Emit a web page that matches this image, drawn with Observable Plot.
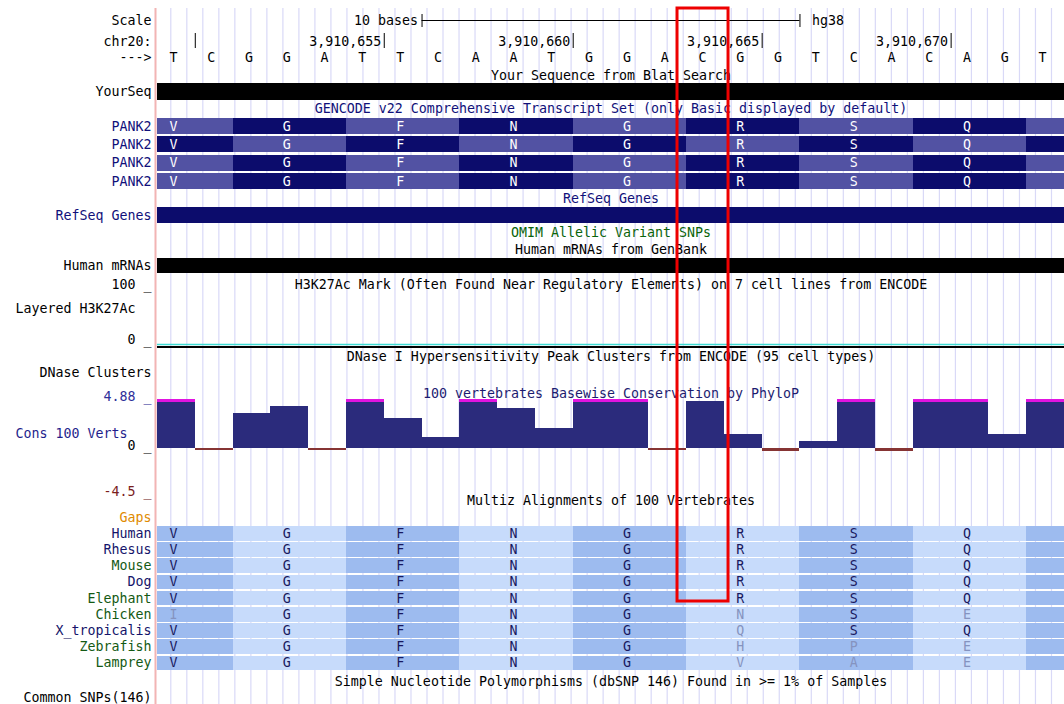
<!DOCTYPE html>
<html><head><meta charset="utf-8">
<script src="https://cdn.jsdelivr.net/npm/d3@7"></script>
<script src="https://cdn.jsdelivr.net/npm/@observablehq/plot@0.6"></script>
<style>
body{margin:0;background:#fff}
#chart{position:relative;width:1064px;height:704px;overflow:hidden;background:#fff}
#chart svg{position:absolute;left:0;top:0}
</style></head><body><div id="chart"></div>
<script>
// ---------------- data ----------------
const chromLabel = "chr20:";
const assembly = "hg38";
const firstBase = 3910650;
const bases = ["T","C","G","G","A","T","T","C","A","A","T","G","G","A","C","G","G","T","C","A","C","A","G","T"];
const coordTicks = [3910650, 3910655, 3910660, 3910665, 3910670];
const coordLabelled = [3910655, 3910660, 3910665, 3910670];
const scaleBarBases = 10;
const aminoAcids = ["V","G","F","N","G","R","S","Q",""]; // codon k centred on base 3k
const pank2Rows = ["PANK2","PANK2","PANK2","PANK2"];
const pank2Phase = [0, 1, 0, 0];
const h3k27acScale = ["100 _", "0 _"];
const phyloP = [5.6,-0.15,3.45,4.15,-0.15,5.6,3.05,1.1,5.6,3.95,2.05,5.6,5.6,-0.2,4.68,1.47,-0.3,0.7,5.6,-0.3,5.6,5.6,1.4,5.6];
const phyloPMax = 4.88, phyloPMin = -4.5;
const phyloPTicks = ["4.88 _", "0 _", "-4.5 _"];
const species = ["Human","Rhesus","Mouse","Dog","Elephant","Chicken","X_tropicalis","Zebrafish","Lamprey"];
const speciesAA = ["VGFNGRSQ","VGFNGRSQ","VGFNGRSQ","VGFNGRSQ","VGFNGRSQ","IGFNGNSE","VGFNGQSQ","VGFNGHPE","VGFNGVAE"];
const speciesGroup = ["a","a","b","a","b","b","a","b","b"];
const trackTitles = [
  "Your Sequence from Blat Search",
  "GENCODE v22 Comprehensive Transcript Set (only Basic displayed by default)",
  "RefSeq Genes",
  "OMIM Allelic Variant SNPs",
  "Human mRNAs from GenBank",
  "H3K27Ac Mark (Often Found Near Regulatory Elements) on 7 cell lines from ENCODE",
  "DNase I Hypersensitivity Peak Clusters from ENCODE (95 cell types)",
  "100 vertebrates Basewise Conservation by PhyloP",
  "Multiz Alignments of 100 Vertebrates",
  "Simple Nucleotide Polymorphisms (dbSNP 146) Found in >= 1% of Samples"
];
const highlightBase = 3910664;

// ---------------- layout / style ----------------
const W = 1064, H = 704, ML = 157;
const FONT = "DejaVu Sans Mono";
const FS = 13.3;
const n = bases.length;
const xLeft = firstBase - 0.5, xRight = firstBase + n - 0.5;
const xMid = (xLeft + xRight) / 2;
const xScale = {domain: [xLeft, xRight], range: [ML, W]};
const yPix = {domain: [0, H], range: [0, H]};
const NAVY = "#10107a", GREEN = "#0a640a";

const titleY = [75,108,198,232,249,284,356,393,500,681];
const titleColor = ["#000", NAVY, NAVY, GREEN, "#000", "#000", "#000", "#1c1c70", "#000", "#000"];
const titles = trackTitles.map((t,i) => ({t, y: titleY[i], c: titleColor[i]}));

const leftLabels = [
  {t:"Scale", y:20, c:"#000"},
  {t:chromLabel, y:41, c:"#000"},
  {t:"--->", y:57, c:"#000"},
  {t:"YourSeq", y:91, c:"#000"},
  ...pank2Rows.map((t,i)=>({t, y:126+18.3*i, c:NAVY})),
  {t:"RefSeq Genes", y:215, c:NAVY},
  {t:"Human mRNAs", y:265, c:"#000"},
  {t:h3k27acScale[0], y:284, c:"#000"},
  {t:h3k27acScale[1], y:339, c:"#000"},
  {t:"DNase Clusters", y:372, c:"#000"},
  {t:"Gaps", y:517, c:"#e08a00"},
  ...species.map((t,i)=>({t, y:533+16.2*i, c: speciesGroup[i]==="a" ? "#14146a" : "#145a14"})),
  {t:"Common SNPs(146)", y:697, c:"#000"}
];
const leftLabelsStart = [
  {t:"Layered H3K27Ac", y:308, c:"#000"},
  {t:"Cons 100 Verts", y:433, c:"#1e1e8c"}
];

// grid lines (UCSC guidelines)
const gridX = d3.range(56).map(k => firstBase - 0.148 + k*0.4237);

// codons
const codons = aminoAcids.map((aa,k) => ({k, aa, x1: firstBase+3*k-1.5, x2: firstBase+3*k+1.5, xc: firstBase+3*k}));

const pankRects = [];
pank2Rows.forEach((r,i) => codons.forEach(c => pankRects.push({...c, y1:118+18.3*i, y2:134+18.3*i, dark: (c.k+pank2Phase[i])%2===1})));
const pankText = pankRects.filter(d => d.aa);

const mzRects = [];
species.forEach((s,i) => codons.forEach(c => mzRects.push({...c, y1:526+16.2*i, y2:540.5+16.2*i, dark: c.k%2===0})));
const mzText = [];
species.forEach((s,i) => speciesAA[i].split("").forEach((aa,k) => mzText.push({aa, xc: firstBase+3*k, y: 533+16.2*i, match: aa===speciesAA[0][k]})));

const baseData = bases.map((b,i)=>({b, x: firstBase+i}));
const scaleX1 = xMid - scaleBarBases/2, scaleX2 = xMid + scaleBarBases/2;

const common = {width: W, height: H, marginLeft: ML, marginRight: 0, marginTop: 0, marginBottom: 0, x: {...xScale, axis: null}};

// ---------------- layer 1: layout tracks ----------------
const layer1 = Plot.plot({
  ...common,
  y: {...yPix, axis: null},
  style: {fontFamily: FONT, fontSize: FS+"px", background: "white"},
  marks: [
    Plot.ruleX(gridX, {x: d=>d, y1: 8, y2: H, stroke: "#d9d9f7", strokeWidth: 1.2, clip: true}),
    Plot.ruleX([xLeft], {y1: 8, y2: H, dx: -2, stroke: "#f2b4b4", strokeWidth: 2}),
    // scale bar
    Plot.ruleY([20], {x1: scaleX1, x2: scaleX2, stroke: "#000"}),
    Plot.ruleX([scaleX1, scaleX2], {y1: 14, y2: 27, stroke: "#000"}),
    Plot.text(["10 bases"], {x: scaleX1, y: 20, dx: -4, textAnchor: "end", text: d=>d, fill: "#000"}),
    Plot.text([assembly], {x: scaleX2, y: 20, dx: 12, textAnchor: "start", text: d=>d, fill: "#000"}),
    // coordinates
    Plot.ruleX(coordTicks, {x: d=>d+0.5, y1: 33, y2: 48, stroke: "#000"}),
    Plot.text(coordLabelled, {x: d=>d+0.5, y: 41, dx: -3, textAnchor: "end", text: d=>d3.format(",")(d), fill: "#000"}),
    Plot.text(baseData, {x: "x", y: 57, dx: -3, text: "b", fill: "#000"}),
    // titles
    Plot.text(titles, {x: xMid, y: "y", text: "t", fill: "c"}),
    // YourSeq
    Plot.rect([0], {x1: xLeft, x2: xRight, y1: 83, y2: 100, fill: "#000", inset: 0}),
    // PANK2
    Plot.rect(pankRects, {x1: "x1", x2: "x2", y1: "y1", y2: "y2", fill: d => d.dark ? "#0c0c6c" : "#5252a3", clip: true, inset: 0, shapeRendering: "crispEdges"}),
    Plot.text(pankText, {x: "xc", y: d => (d.y1+d.y2)/2, dx: -3, text: "aa", fill: "#fff"}),
    // RefSeq
    Plot.rect([0], {x1: xLeft, x2: xRight, y1: 207, y2: 223, fill: "#0c0c6c", inset: 0}),
    // Human mRNAs
    Plot.rect([0], {x1: xLeft, x2: xRight, y1: 258, y2: 273, fill: "#000", inset: 0}),
    // H3K27Ac baseline
    Plot.ruleY([344], {x1: xLeft, x2: xRight, stroke: "#3fdcd4", strokeWidth: 1.5}),
    Plot.ruleY([346.5], {x1: xLeft, x2: xRight, stroke: "#000", strokeWidth: 2}),
    // Multiz
    Plot.rect(mzRects, {x1: "x1", x2: "x2", y1: "y1", y2: "y2", fill: d => d.dark ? "#9dbbef" : "#c7dbfb", clip: true, inset: 0, shapeRendering: "crispEdges"}),
    Plot.text(mzText, {x: "xc", y: "y", dx: -3, text: "aa", fill: d => d.match ? "#18185e" : "#8593bf"}),
    // left labels
    Plot.text(leftLabels, {x: xLeft, y: "y", dx: -6, textAnchor: "end", text: "t", fill: "c"}),
    Plot.text(leftLabelsStart, {x: xLeft, y: "y", dx: -142, textAnchor: "start", text: "t", fill: "c"})
  ]
});

// ---------------- layer 2: PhyloP conservation ----------------
const pp = phyloP.map((v,i) => ({x1: firstBase+i-0.5, x2: firstBase+i+0.5, v, vc: Math.min(v, phyloPMax)}));
const layer2 = Plot.plot({
  ...common,
  y: {domain: [phyloPMin, phyloPMax], range: [494, 399], axis: null},
  style: {fontFamily: FONT, fontSize: FS+"px", background: "transparent"},
  marks: [
    Plot.rectY(pp.filter(d=>d.v>=0), {x1: "x1", x2: "x2", y1: 0, y2: "vc", fill: "#2b2b7c", inset: 0, shapeRendering: "crispEdges"}),
    Plot.rectY(pp.filter(d=>d.v<0), {x1: "x1", x2: "x2", y1: 0, y2: d => Math.min(d.v, -0.18), fill: "#863434", inset: 0, shapeRendering: "crispEdges"}),
    Plot.rectY(pp.filter(d=>d.v>phyloPMax), {x1: "x1", x2: "x2", y1: phyloPMax-0.3, y2: phyloPMax, fill: "#e014e0", inset: 0, shapeRendering: "crispEdges"}),
    Plot.text([phyloPMax, 0, phyloPMin], {x: xLeft, y: d=>d, dx: -6, dy: 1, lineAnchor: "bottom", textAnchor: "end",
      text: (d,i) => phyloPTicks[i], fill: (d,i) => ["#2f2f9a","#000","#7a1e1e"][i]})
  ]
});

// ---------------- layer 3: highlight box ----------------
const layer3 = Plot.plot({
  ...common,
  y: {...yPix, axis: null},
  style: {background: "transparent"},
  marks: [
    Plot.rect([highlightBase], {x1: d=>d-0.74, x2: d=>d+0.61, y1: 8, y2: 601, fill: "none", stroke: "#ee0000", strokeWidth: 3, inset: 0})
  ]
});

const el = document.getElementById("chart");
el.append(layer1, layer2, layer3);
</script></body></html>
